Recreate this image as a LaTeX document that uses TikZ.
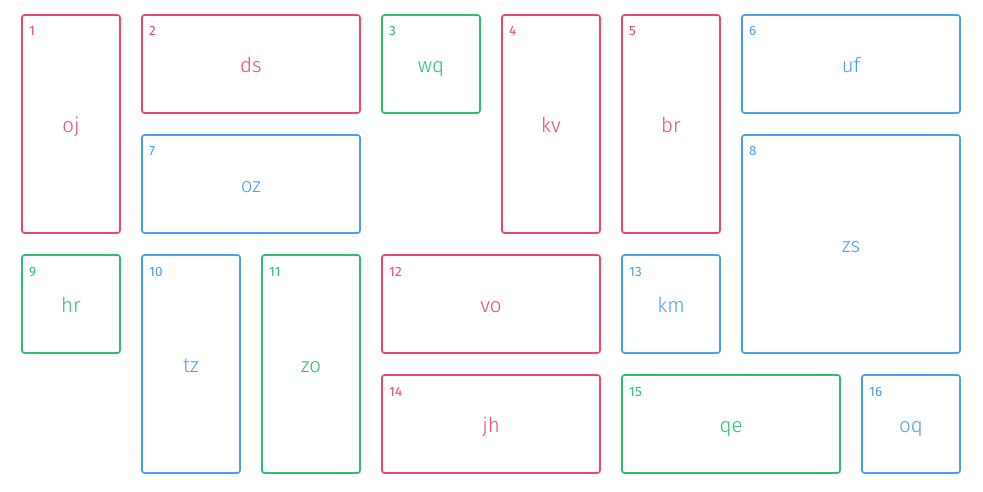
\documentclass[tikz,border=0pt]{standalone}
\usepackage{fontspec}
\setmainfont{Fira Sans}
\newfontfamily\lightf{Fira Sans Light}
\definecolor{cr}{HTML}{F0466E}
\definecolor{cg}{HTML}{2DBE6E}
\definecolor{cb}{HTML}{4A9EF0}
\begin{document}
\begin{tikzpicture}[x=1pt,y=-1pt,
  cell/.style={draw=#1,line width=1.6pt,rounded corners=2.5pt},
  lbl/.style={text=#1,font=\lightf\fontsize{20.5}{20.5}\selectfont,inner sep=0pt,anchor=base},
  num/.style={text=#1,font=\fontsize{13.5}{13.5}\selectfont,inner sep=0pt,anchor=base west}]
\useasboundingbox (0,0) rectangle (983,492);
\newcommand{\cellbox}[7]{% id, x1,y1,x2,y2, color, label
  \draw[cell=#6] (#2,#3) rectangle (#4,#5);
  \node[num=#6] (n#1) at ({#2+7},{#3+21}) {#1};
  \node[lbl=#6] (l#1) at ({(#2+#4)/2},{(#3+#5)/2+8.5}) {#7};
}
\cellbox{1}{22}{15}{120}{233}{cr}{oj}
\cellbox{2}{142}{15}{360}{113}{cr}{ds}
\cellbox{3}{382}{15}{480}{113}{cg}{wq}
\cellbox{4}{502}{15}{600}{233}{cr}{kv}
\cellbox{5}{622}{15}{720}{233}{cr}{br}
\cellbox{6}{742}{15}{960}{113}{cb}{uf}
\cellbox{7}{142}{135}{360}{233}{cb}{oz}
\cellbox{8}{742}{135}{960}{353}{cb}{zs}
\cellbox{9}{22}{255}{120}{353}{cg}{hr}
\cellbox{10}{142}{255}{240}{473}{cb}{tz}
\cellbox{11}{262}{255}{360}{473}{cg}{zo}
\cellbox{12}{382}{255}{600}{353}{cr}{vo}
\cellbox{13}{622}{255}{720}{353}{cb}{km}
\cellbox{14}{382}{375}{600}{473}{cr}{jh}
\cellbox{15}{622}{375}{840}{473}{cg}{qe}
\cellbox{16}{862}{375}{960}{473}{cb}{oq}
\end{tikzpicture}
\end{document}
